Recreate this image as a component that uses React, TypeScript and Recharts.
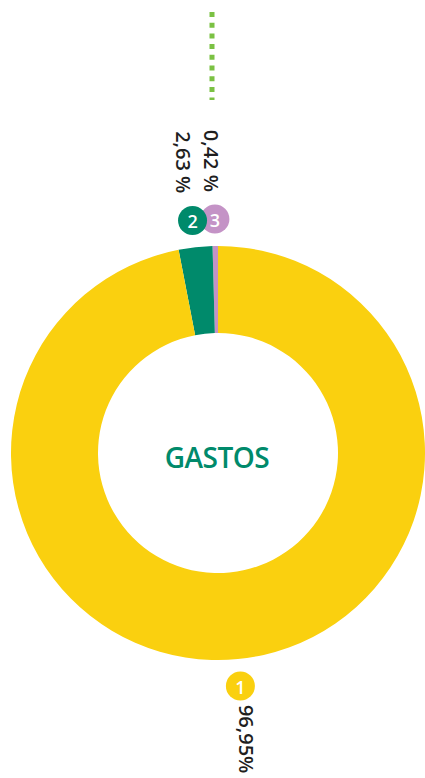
import React from "react";
import { PieChart, Pie, Cell } from "recharts";

// order follows the ring counter-clockwise from 12 o'clock
const numbers = ["3", "2", "1"];
const shares = [0.42, 2.63, 96.95];
const shareLabels = ["0,42 %", "2,63 %", "96,95%"];
const centerTitle = "GASTOS";

const COLORS = ["#C493C6", "#008A6B", "#FAD00F"];
const labelDx = [-3, -9, 6];

const data = numbers.map((n, i) => ({ name: n, value: shares[i], text: shareLabels[i] }));

const RADIAN = Math.PI / 180;
const FONT = "'Open Sans', sans-serif";

const renderLabel = (props: any) => {
  const { cx, cy, midAngle, outerRadius, index } = props;
  const r = outerRadius + 27;
  const x = cx + r * Math.cos(-midAngle * RADIAN);
  const y = cy + r * Math.sin(-midAngle * RADIAN);
  const bottom = y > cy;
  const tx = x + labelDx[index];
  const ty = bottom ? y + 19 : y - 27;
  return (
    <g>
      <circle cx={x} cy={y} r={14.5} fill={COLORS[index]} />
      <text
        x={x}
        y={y + 1}
        fill="#fff"
        textAnchor="middle"
        dominantBaseline="central"
        fontSize={18}
        fontWeight={600}
        fontFamily={FONT}
      >
        {data[index].name}
      </text>
      <text
        transform={`translate(${tx},${ty}) rotate(90)`}
        x={0}
        y={0}
        fill="#1f1f1f"
        textAnchor={bottom ? "start" : "end"}
        dominantBaseline="central"
        fontSize={20}
        fontWeight={600}
        fontFamily={FONT}
      >
        {data[index].text}
      </text>
    </g>
  );
};

export default function App() {
  return (
    <div style={{ position: "absolute", left: 0, top: 0, width: 425, height: 778 }}>
      <PieChart width={425} height={778} margin={{ top: 0, right: 0, bottom: 0, left: 0 }}>
        <Pie
          data={data}
          dataKey="value"
          cx={218}
          cy={453}
          innerRadius={120}
          outerRadius={207}
          startAngle={90}
          endAngle={450}
          stroke="none"
          label={renderLabel}
          labelLine={false}
          isAnimationActive={false}
        >
          {data.map((d, i) => (
            <Cell key={d.name} fill={COLORS[i]} />
          ))}
        </Pie>
      </PieChart>
      <svg
        width={425}
        height={778}
        style={{ position: "absolute", left: 0, top: 0, pointerEvents: "none" }}
      >
        <line x1={212} y1={12} x2={212} y2={100} stroke="#7BC143" strokeWidth={5} strokeDasharray="5 5.7" />
        <text
          x={217}
          y={457}
          textAnchor="middle"
          dominantBaseline="central"
          fill="#008A6B"
          fontSize={28}
          fontWeight={600}
          letterSpacing={-0.5}
          fontFamily={FONT}
        >
          {centerTitle}
        </text>
      </svg>
    </div>
  );
}
